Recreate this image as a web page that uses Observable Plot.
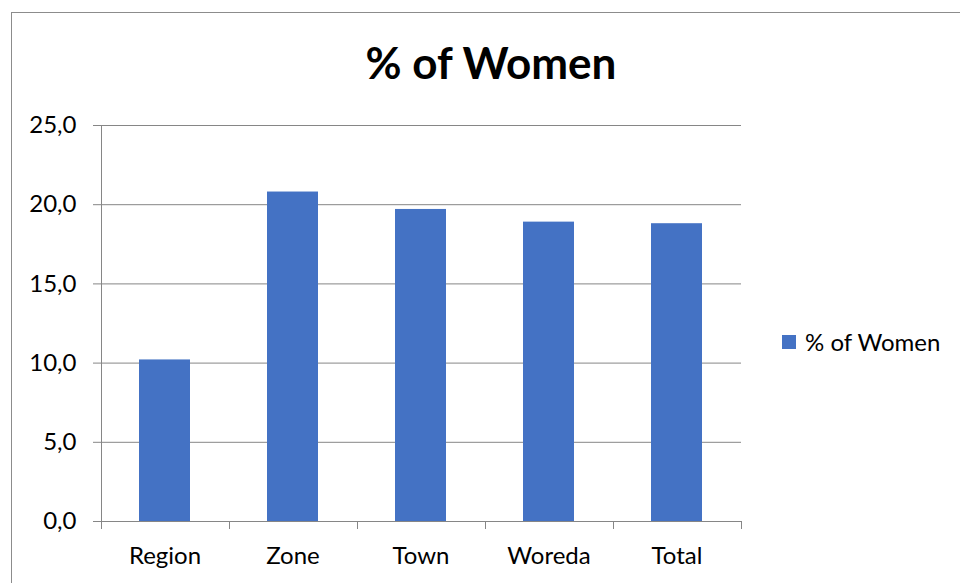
<!DOCTYPE html>
<html>
<head>
<meta charset="utf-8">
<script src="https://cdn.jsdelivr.net/npm/d3@7"></script>
<script src="https://cdn.jsdelivr.net/npm/@observablehq/plot@0.6"></script>
<style>
  html, body { margin: 0; padding: 0; background: #fff; }
  #chart { position: relative; width: 960px; height: 583px; overflow: hidden; font-family: Lato, "Open Sans", sans-serif; }
  #frame { position: absolute; left: 11px; top: 12px; width: 980px; height: 600px; border-left: 1px solid #8c8c8c; border-top: 1px solid #8c8c8c; }
  #plot { position: absolute; left: 0; top: 0; }
  #title { position: absolute; left: 0; width: 982px; top: 36px; text-align: center; font-weight: bold; font-size: 44px; color: #000; }
  #legend { position: absolute; left: 782px; top: 327px; display: flex; align-items: center; font-size: 24px; color: #000; }
  #legend .sw { width: 14px; height: 14px; margin-right: 9px; }
</style>
</head>
<body>
<div id="chart">
  <div id="frame"></div>
  <div id="plot"></div>
  <div id="title"></div>
  <div id="legend"><span class="sw"></span><span class="lbl"></span></div>
</div>
<script>
// Share of women by administrative level
const categories = ["Region", "Zone", "Town", "Woreda", "Total"];
const womenPct = [10.2, 20.8, 19.7, 18.9, 18.8];
const yTicks = [0, 5, 10, 15, 20, 25];
const seriesName = "% of Women";
const barColor = "#4472c4";
const gridColor = "#868686";

const data = categories.map((c, i) => ({category: c, value: womenPct[i]}));
const fmt = d => d.toFixed(1).replace(".", ",");

const chart = Plot.plot({
  width: 960,
  height: 583,
  marginLeft: 101,
  marginRight: 219,
  marginTop: 125,
  marginBottom: 62,
  style: {fontFamily: "Lato, 'Open Sans', sans-serif", fontSize: "24px", color: "#000", background: "transparent"},
  x: {domain: categories, paddingInner: 0.6, paddingOuter: 0.3, label: null},
  y: {domain: [0, 25], label: null},
  marks: [
    Plot.gridY(yTicks, {stroke: gridColor, strokeOpacity: 1}),
    Plot.barY(data, {x: "category", y: "value", fill: barColor}),
    Plot.ruleY([0], {stroke: gridColor}),
    Plot.frame({anchor: "left", stroke: gridColor}),
    Plot.axisY({ticks: yTicks, tickFormat: fmt, tickSize: 8, tickPadding: 17, stroke: gridColor, fontSize: 24, label: null}),
    Plot.axisX({tickSize: 0, tickPadding: 25, fontSize: 24, label: null})
  ]
});
chart.querySelectorAll("[aria-label='y-axis tick label'] text, [aria-label='x-axis tick label'] text").forEach(t => t.setAttribute("fill", "#000"));

// Tick marks on the category axis sit at the band boundaries
const xs = chart.scale("x");
const ys = chart.scale("y");
const gap = xs.step - xs.bandwidth;
const y0 = ys.apply(0);
const ticks = d3.select(chart).append("g").attr("stroke", gridColor).attr("stroke-width", 1);
for (let i = 0; i <= categories.length; i++) {
  const px = Math.round(xs.apply(categories[0]) - gap / 2 + i * xs.step) + 0.5;
  ticks.append("line").attr("x1", px).attr("x2", px).attr("y1", y0).attr("y2", y0 + 8);
}
document.getElementById("plot").appendChild(chart);

document.getElementById("title").textContent = seriesName;
document.querySelector("#legend .sw").style.background = barColor;
document.querySelector("#legend .lbl").textContent = seriesName;
</script>
</body>
</html>
